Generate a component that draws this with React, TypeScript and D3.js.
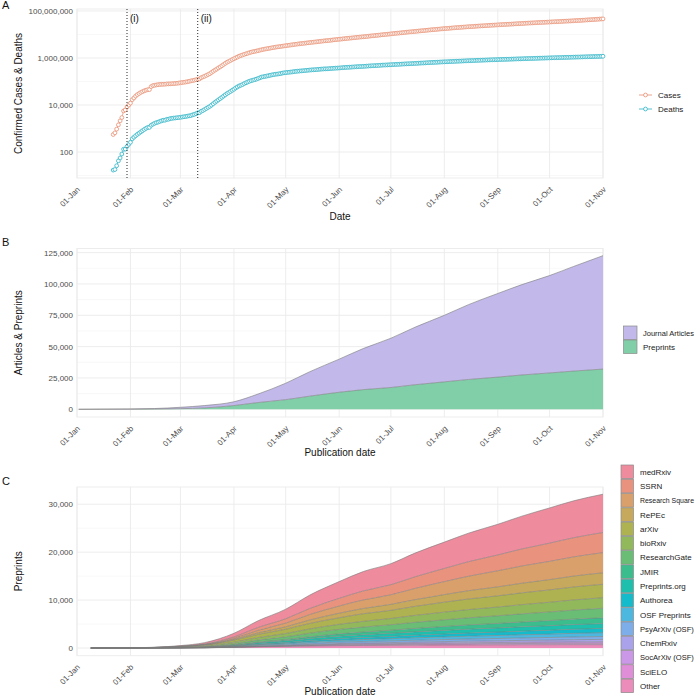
import React, { useEffect, useRef } from "react";
import * as d3 from "d3";

// ---- Panel A: cumulative confirmed cases and deaths, daily from 22-Jan ----
const firstDay = "2020-01-22";

const cases = [
  555, 654, 941, 1434, 2118, 2927, 5578, 6166, 8234, 9927,
  // Feb
  12038, 16787, 19887, 23898, 27643, 30802, 34395, 37129, 40160, 42769,
  44811, 45229, 60381, 66909, 69052, 71235, 73270, 75152, 75652, 76212,
  76841, 78602, 78982, 79546, 80399, 81376, 82756, 84122, 86013,
  // Mar
  88371, 90309, 92844, 95124, 97886, 101800, 105836, 109835, 113582, 118582,
  125865, 128343, 145193, 156097, 167449, 181546, 197168, 214915, 242713, 272167,
  304528, 337020, 378287, 418045, 467653, 529591, 593291, 660706, 720117, 782365,
  857487,
  // Apr
  932605, 1013466, 1095917, 1197405, 1272115, 1345048, 1426096, 1511104, 1595350, 1691719,
  1771514, 1846680, 1917320, 1976192, 2056054, 2152437, 2240190, 2317758, 2401378, 2472259,
  2549294, 2624074, 2708885, 2795731, 2881140, 2955033, 3023722, 3097229, 3172287, 3256910,
  // May
  3344e3, 3430e3, 3506e3, 3583e3, 3662e3, 3755e3, 3845e3, 3938e3, 4024e3, 4102e3,
  4177e3, 4261e3, 4347e3, 4443e3, 4542e3, 4637e3, 4718e3, 4801e3, 4897e3, 4996e3,
  5102e3, 5210e3, 5308e3, 5406e3, 5496e3, 5589e3, 5693e3, 5812e3, 5935e3, 6057e3,
  6167e3,
  // Jun
  6266e3, 6367e3, 6488e3, 6617e3, 6747e3, 6873e3, 6981e3, 7086e3, 7208e3, 7345e3,
  7480e3, 7617e3, 7754e3, 7880e3, 8002e3, 8141e3, 8282e3, 8425e3, 8603e3, 8759e3,
  8890e3, 9045e3, 9208e3, 9377e3, 9560e3, 9752e3, 9932e3, 10092e3, 10253e3, 10419e3,
  // Jul
  10630e3, 10843e3, 11043e3, 11235e3, 11421e3, 11591e3, 11803e3, 12026e3, 12240e3, 12472e3,
  12700e3, 12892e3, 13072e3, 13283e3, 13512e3, 13765e3, 14012e3, 14252e3, 14465e3, 14668e3,
  14906e3, 15185e3, 15463e3, 15744e3, 15999e3, 16222e3, 16449e3, 16690e3, 16966e3, 17255e3,
  17544e3,
  // Aug
  17802e3, 18014e3, 18226e3, 18480e3, 18759e3, 19044e3, 19331e3, 19595e3, 19824e3, 20036e3,
  20289e3, 20571e3, 20858e3, 21140e3, 21387e3, 21603e3, 21812e3, 22071e3, 22352e3, 22622e3,
  22893e3, 23153e3, 23362e3, 23576e3, 23821e3, 24103e3, 24389e3, 24670e3, 24936e3, 25155e3,
  25402e3,
  // Sep
  25665e3, 25945e3, 26233e3, 26524e3, 26791e3, 27009e3, 27229e3, 27459e3, 27744e3, 28040e3,
  28354e3, 28657e3, 28911e3, 29145e3, 29433e3, 29720e3, 30031e3, 30348e3, 30649e3, 30891e3,
  31129e3, 31387e3, 31676e3, 31973e3, 32285e3, 32578e3, 32830e3, 33068e3, 33340e3, 33651e3,
  // Oct
  33965e3, 34287e3, 34600e3, 34859e3, 35127e3, 35418e3, 35755e3, 36107e3, 36461e3, 36826e3,
  37109e3, 37388e3, 37703e3, 38080e3, 38471e3, 38880e3, 39258e3, 39575e3, 39978e3, 40385e3,
  40818e3, 41305e3, 41786e3, 42260e3, 42640e3, 43077e3, 43563e3, 44079e3, 44658e3, 45227e3,
  45739e3,
  // Nov
  46166e3,
];

const deaths = [
  17, 18, 26, 42, 56, 82, 131, 133, 171, 213,
  // Feb
  259, 362, 426, 492, 564, 634, 719, 806, 906, 1013,
  1113, 1118, 1371, 1523, 1666, 1770, 1868, 2007, 2122, 2247,
  2251, 2458, 2469, 2629, 2708, 2770, 2814, 2872, 2941,
  // Mar
  2996, 3085, 3160, 3254, 3348, 3460, 3558, 3802, 3988, 4262,
  4615, 4720, 5404, 5819, 6440, 7126, 7905, 8733, 9867, 11299,
  12973, 14623, 16497, 18615, 21181, 23970, 27198, 30652, 33925, 37582,
  42107,
  // Apr
  46809, 52983, 58787, 64606, 69374, 74565, 81865, 88338, 95455, 102525,
  108502, 114090, 119482, 125984, 134176, 143799, 153821, 159509, 165044, 169986,
  176583, 183068, 190858, 197159, 202846, 206544, 211167, 217153, 227638, 233388,
  // May
  238.7e3, 244e3, 248e3, 252e3, 258e3, 264e3, 270e3, 275e3, 279e3, 283e3,
  286e3, 292e3, 297e3, 302e3, 307e3, 312e3, 315e3, 318e3, 323e3, 328e3,
  333e3, 338e3, 342e3, 345e3, 346e3, 351e3, 356e3, 361e3, 366e3, 370e3,
  373e3,
  // Jun
  377e3, 382e3, 388e3, 393e3, 398e3, 402e3, 405e3, 409e3, 414e3, 419e3,
  424e3, 429e3, 433e3, 436e3, 440e3, 446e3, 451e3, 456e3, 462e3, 467e3,
  470e3, 474e3, 479e3, 485e3, 491e3, 496e3, 501e3, 504e3, 508e3, 513e3,
  // Jul
  518e3, 523e3, 528e3, 533e3, 537e3, 541e3, 547e3, 553e3, 558e3, 563e3,
  568e3, 572e3, 576e3, 582e3, 588e3, 593e3, 600e3, 606e3, 611e3, 615e3,
  621e3, 628e3, 635e3, 641e3, 647e3, 652e3, 656e3, 662e3, 669e3, 675e3,
  681e3,
  // Aug
  686e3, 691e3, 695e3, 702e3, 708e3, 714e3, 720e3, 726e3, 731e3, 736e3,
  742e3, 749e3, 755e3, 761e3, 767e3, 771e3, 775e3, 781e3, 788e3, 794e3,
  799e3, 805e3, 809e3, 813e3, 819e3, 825e3, 831e3, 836e3, 841e3, 845e3,
  849e3,
  // Sep
  855e3, 861e3, 867e3, 872e3, 877e3, 881e3, 885e3, 890e3, 896e3, 902e3,
  907e3, 913e3, 917e3, 921e3, 926e3, 932e3, 938e3, 944e3, 949e3, 953e3,
  957e3, 963e3, 969e3, 975e3, 981e3, 986e3, 990e3, 995e3, 1000e3, 1006e3,
  // Oct
  1012e3, 1018e3, 1023e3, 1027e3, 1031e3, 1037e3, 1043e3, 1049e3, 1055e3, 1060e3,
  1064e3, 1068e3, 1073e3, 1080e3, 1086e3, 1092e3, 1097e3, 1101e3, 1105e3, 1112e3,
  1119e3, 1125e3, 1131e3, 1137e3, 1141e3, 1146e3, 1153e3, 1160e3, 1167e3, 1173e3,
  1180e3,
  // Nov
  1185e3,
];

// events: (i) PHEIC, (ii) pandemic declared
const eventDates = ["2020-01-30", "2020-03-11"];
const eventLabels = ["(i)", "(ii)"];

// ---- Panel B: articles & preprints ----
const bDates = ["2020-01-02", "2020-02-01", "2020-02-15", "2020-03-01", "2020-03-15", "2020-04-01",
  "2020-04-15", "2020-05-01", "2020-05-15", "2020-06-01", "2020-06-15", "2020-07-01", "2020-07-15",
  "2020-08-01", "2020-08-15", "2020-09-01", "2020-09-15", "2020-10-01", "2020-10-15", "2020-11-01"];
const preprintsTotal = [0, 60, 150, 500, 1100, 3000, 5400, 7700, 10500, 13600, 15700, 17400, 19600,
  21900, 23800, 25700, 27400, 29000, 30500, 32100];
const journalArticles = [0, 240, 450, 1100, 1900, 3000, 6800, 13100, 19500, 26400, 32800, 39300, 45900,
  53100, 59700, 66700, 72100, 77700, 83500, 90500];

// ---- Panel C: preprints per source ----
const cDates = ["2020-01-09", ...bDates.slice(1)];
const medrxiv = [0, 10, 30, 120, 280, 750, 1400, 2000, 2800, 3500, 4050, 4400, 4950, 5500, 5950, 6400, 6850, 7350, 7700, 8000];
const ssrn = [0, 5, 10, 40, 100, 300, 600, 900, 1250, 1600, 1880, 2100, 2420, 2750, 3030, 3300, 3550, 3800, 4000, 4200];
const researchSquare = [0, 0, 5, 20, 60, 230, 500, 780, 1150, 1500, 1780, 2000, 2350, 2700, 3020, 3350, 3600, 3800, 4000, 4200];
const repec = [0, 0, 0, 10, 30, 150, 330, 500, 720, 950, 1100, 1250, 1400, 1580, 1730, 1880, 2010, 2150, 2280, 2400];
const arxiv = [0, 15, 35, 90, 180, 420, 680, 900, 1150, 1370, 1580, 1700, 1880, 2080, 2210, 2340, 2460, 2580, 2700, 2800];
const biorxiv = [0, 15, 40, 100, 170, 330, 520, 690, 880, 1050, 1200, 1300, 1450, 1600, 1710, 1820, 1920, 2020, 2110, 2200];
const researchGate = [0, 5, 10, 40, 90, 250, 420, 580, 760, 930, 1040, 1150, 1270, 1400, 1500, 1600, 1700, 1800, 1900, 2000];
const jmir = [0, 0, 0, 5, 15, 70, 160, 250, 360, 480, 560, 640, 720, 810, 880, 950, 1010, 1080, 1140, 1200];
const preprintsOrg = [0, 5, 10, 30, 60, 150, 250, 330, 420, 520, 580, 640, 700, 760, 810, 860, 900, 940, 970, 1000];
const authorea = [0, 0, 0, 5, 15, 60, 130, 200, 280, 370, 420, 480, 540, 600, 650, 700, 750, 800, 850, 900];
const osfPreprints = [0, 0, 5, 10, 30, 80, 150, 210, 280, 350, 400, 450, 500, 550, 590, 630, 670, 710, 760, 800];
const psyarxiv = [0, 0, 0, 5, 20, 80, 150, 200, 250, 300, 330, 360, 390, 420, 450, 480, 510, 540, 570, 600];
const chemrxiv = [0, 0, 0, 5, 10, 30, 60, 90, 130, 170, 200, 230, 260, 300, 330, 360, 390, 420, 460, 500];
const socarxiv = [0, 0, 0, 0, 5, 20, 50, 70, 100, 130, 150, 170, 190, 210, 225, 240, 255, 270, 285, 300];
const scielo = [0, 0, 0, 0, 0, 10, 30, 60, 100, 140, 160, 180, 200, 220, 235, 250, 265, 280, 290, 300];
const other = [0, 5, 15, 30, 60, 150, 260, 340, 420, 500, 530, 560, 590, 620, 640, 660, 680, 690, 700, 700];

const sourceNames = ["medRxiv", "SSRN", "Research Square", "RePEc", "arXiv", "bioRxiv", "ResearchGate",
  "JMIR", "Preprints.org", "Authorea", "OSF Preprints", "PsyArXiv (OSF)", "ChemRxiv", "SocArXiv (OSF)",
  "SciELO", "Other"];
const sourceSeries = [medrxiv, ssrn, researchSquare, repec, arxiv, biorxiv, researchGate, jmir,
  preprintsOrg, authorea, osfPreprints, psyarxiv, chemrxiv, socarxiv, scielo, other];
const sourceColors = ["#ee8b9d", "#e9937f", "#daa06b", "#c6a95c", "#aeb250", "#91b95b", "#6abd74",
  "#3cbd8d", "#1ebfac", "#14bccb", "#4db8df", "#7eaeea", "#aaa2ea", "#cb98e8", "#e08ed8", "#ec8cba"];

const font = "'Liberation Sans', Arial, Helvetica, sans-serif";

export default function App() {
  const ref = useRef<SVGSVGElement>(null);

  useEffect(() => {
    document.body.style.margin = "0";
    const svg = d3.select(ref.current);
    svg.selectAll("*").remove();
    svg.style("font-family", font);

    const parse = d3.timeParse("%Y-%m-%d");
    const left = 77, right = 603;
    const x = d3.scaleTime()
      .domain([new Date(2020, 0, 1), new Date(2020, 10, 1)])
      .range([left, right]);
    const months = d3.timeMonth.range(new Date(2020, 0, 1), new Date(2020, 10, 2));
    const fmt = d3.timeFormat("%d-%b");

    const frame = (top: number, bottom: number, y: any, major: number[], minor: number[]) => {
      const g = svg.append("g");
      g.selectAll(".minor").data(minor).enter().append("line")
        .attr("x1", left).attr("x2", right)
        .attr("y1", d => y(d)).attr("y2", d => y(d))
        .attr("stroke", "#f3f3f3").attr("stroke-width", 0.6);
      g.selectAll(".major").data(major).enter().append("line")
        .attr("x1", left).attr("x2", right)
        .attr("y1", d => y(d)).attr("y2", d => y(d))
        .attr("stroke", "#ebebeb").attr("stroke-width", 0.9);
      g.selectAll(".vert").data(months).enter().append("line")
        .attr("x1", d => x(d)).attr("x2", d => x(d))
        .attr("y1", top).attr("y2", bottom)
        .attr("stroke", "#ebebeb").attr("stroke-width", 0.9);
      g.append("rect")
        .attr("x", left).attr("y", top)
        .attr("width", right - left).attr("height", bottom - top)
        .attr("fill", "none").attr("stroke", "#ebebeb").attr("stroke-width", 0.9);
    };

    const axes = (top: number, bottom: number, y: any, major: number[], yTitle: string, xTitle: string, xTitleY: number) => {
      const gx = svg.append("g")
        .attr("transform", `translate(0,${bottom})`)
        .call(d3.axisBottom(x).tickValues(months).tickFormat(d => fmt(d as Date)).tickSize(0));
      gx.select(".domain").remove();
      gx.selectAll("text")
        .attr("y", 0).attr("dy", "0.35em")
        .attr("transform", "translate(1,10) rotate(-45)")
        .style("text-anchor", "end")
        .attr("fill", "#4d4d4d").style("font-size", "8px").style("font-family", font);

      const gy = svg.append("g")
        .attr("transform", `translate(${left},0)`)
        .call(d3.axisLeft(y).tickValues(major).tickFormat(d3.format(",") as any).tickSize(0).tickPadding(4));
      gy.select(".domain").remove();
      gy.selectAll("text").attr("fill", "#4d4d4d").style("font-size", "8px").style("font-family", font);

      svg.append("text")
        .attr("transform", `translate(22,${(top + bottom) / 2}) rotate(-90)`)
        .attr("text-anchor", "middle")
        .style("font-size", "10px").attr("fill", "#111")
        .text(yTitle);
      svg.append("text")
        .attr("x", (left + right) / 2).attr("y", xTitleY)
        .attr("text-anchor", "middle")
        .style("font-size", "10px").attr("fill", "#111")
        .text(xTitle);
    };

    const panelLabel = (label: string, y: number) => {
      svg.append("text").attr("x", 2).attr("y", y)
        .style("font-size", "11px").attr("fill", "#111").text(label);
    };

    // legend label, set a little smaller only if it would run past the right edge
    const legendText = (lx: number, ly: number, label: string) => {
      const t = svg.append("text").attr("x", lx).attr("y", ly).attr("dy", "0.35em")
        .style("font-size", "8px").attr("fill", "#222").text(label);
      const node = t.node() as SVGTextElement;
      const room = 694 - lx;
      const len = node.getComputedTextLength();
      if (len > room) {
        t.style("font-size", `${(8 * room / len).toFixed(2)}px`);
      }
    };

    // ================= Panel A =================
    {
      const top = 9, bottom = 178;
      const y = d3.scaleLog().domain([Math.pow(10, 0.894), Math.pow(10, 8.085)]).range([bottom, top]);
      const major = [100, 1e4, 1e6, 1e8];
      frame(top, bottom, y, major, [10, 1e3, 1e5, 1e7]);

      const start = parse(firstDay) as Date;
      const series = [
        { name: "Cases", values: cases, color: "#ea9a7f" },
        { name: "Deaths", values: deaths, color: "#3fbacb" },
      ];
      const line = d3.line<number>()
        .x((_, i) => x(d3.timeDay.offset(start, i)))
        .y(d => y(d));
      series.forEach(s => {
        svg.append("path").attr("d", line(s.values))
          .attr("fill", "none").attr("stroke", s.color).attr("stroke-width", 0.8);
      });
      series.forEach(s => {
        svg.append("g").selectAll("circle").data(s.values).enter().append("circle")
          .attr("cx", (_, i) => x(d3.timeDay.offset(start, i)))
          .attr("cy", d => y(d))
          .attr("r", 1.9)
          .attr("fill", "#fff")
          .attr("stroke", s.color).attr("stroke-width", 0.9);
      });

      eventDates.forEach((d, i) => {
        const ex = x(parse(d) as Date);
        svg.append("line")
          .attr("x1", ex).attr("x2", ex).attr("y1", top).attr("y2", bottom)
          .attr("stroke", "#111").attr("stroke-width", 0.9).attr("stroke-dasharray", "1,2");
        svg.append("text").attr("x", ex + 3).attr("y", 22)
          .style("font-size", "10px").attr("fill", "#111").text(eventLabels[i]);
      });

      axes(top, bottom, y, major, "Confirmed Cases & Deaths", "Date", 220);
      panelLabel("A", 9);

      // legend
      series.forEach((s, i) => {
        const ly = 95 + i * 14;
        svg.append("line").attr("x1", 639).attr("x2", 652).attr("y1", ly).attr("y2", ly)
          .attr("stroke", s.color).attr("stroke-width", 0.9);
        svg.append("circle").attr("cx", 645.5).attr("cy", ly).attr("r", 1.9)
          .attr("fill", "#fff").attr("stroke", s.color).attr("stroke-width", 0.9);
        legendText(658, ly, s.name);
      });
    }

    // stacked area helper
    const stacked = (dates: string[], names: string[], values: number[][], colors: string[], y: any) => {
      const rows = dates.map((d, i) => {
        const r: any = { date: parse(d) };
        names.forEach((n, k) => { r[n] = values[k][i]; });
        return r;
      });
      // first name sits on top of the stack
      const keys = [...names].reverse();
      const layers = d3.stack().keys(keys)(rows);
      const area = d3.area<any>()
        .x(d => x(d.data.date)).y0(d => y(d[0])).y1(d => y(d[1]))
        .curve(d3.curveMonotoneX);
      const edge = d3.line<any>()
        .x(d => x(d.data.date)).y(d => y(d[1]))
        .curve(d3.curveMonotoneX);
      const g = svg.append("g");
      layers.forEach(layer => {
        g.append("path").attr("d", area(layer as any))
          .attr("fill", colors[names.indexOf(layer.key)]);
      });
      layers.forEach(layer => {
        g.append("path").attr("d", edge(layer as any))
          .attr("fill", "none").attr("stroke", "#7b7b7b").attr("stroke-width", 0.6);
      });
    };

    // ================= Panel B =================
    {
      const top = 248.5, bottom = 417;
      const y = d3.scaleLinear().domain([-6150, 128300]).range([bottom, top]);
      const major = [0, 25000, 50000, 75000, 100000, 125000];
      frame(top, bottom, y, major, [12500, 37500, 62500, 87500, 112500]);
      const names = ["Journal Articles", "Preprints"];
      const colors = ["#c2b9ea", "#80cfa9"];
      stacked(bDates, names, [journalArticles, preprintsTotal], colors, y);
      axes(top, bottom, y, major, "Articles & Preprints", "Publication date", 456);
      panelLabel("B", 246);

      names.forEach((n, i) => {
        const ky = 326 + i * 14;
        svg.append("rect").attr("x", 623.5).attr("y", ky).attr("width", 13.5).attr("height", 13.5)
          .attr("fill", colors[i]).attr("stroke", "#8a8a8a").attr("stroke-width", 0.7);
        legendText(643, ky + 7, n);
      });
    }

    // ================= Panel C =================
    {
      const top = 487, bottom = 655.7;
      const y = d3.scaleLinear().domain([-1600, 33600]).range([bottom, top]);
      const major = [0, 10000, 20000, 30000];
      frame(top, bottom, y, major, [5000, 15000, 25000]);
      stacked(cDates, sourceNames, sourceSeries, sourceColors, y);
      axes(top, bottom, y, major, "Preprints", "Publication date", 695);
      panelLabel("C", 485);

      sourceNames.forEach((n, i) => {
        const ky = 465 + i * 14.27;
        svg.append("rect").attr("x", 621).attr("y", ky).attr("width", 12.5).attr("height", 13.6)
          .attr("fill", sourceColors[i]).attr("stroke", "#8a8a8a").attr("stroke-width", 0.7);
        legendText(640, ky + 7, n);
      });
    }
  }, []);

  return <svg ref={ref} width={700} height={697} style={{ display: "block", background: "#fff" }} />;
}
